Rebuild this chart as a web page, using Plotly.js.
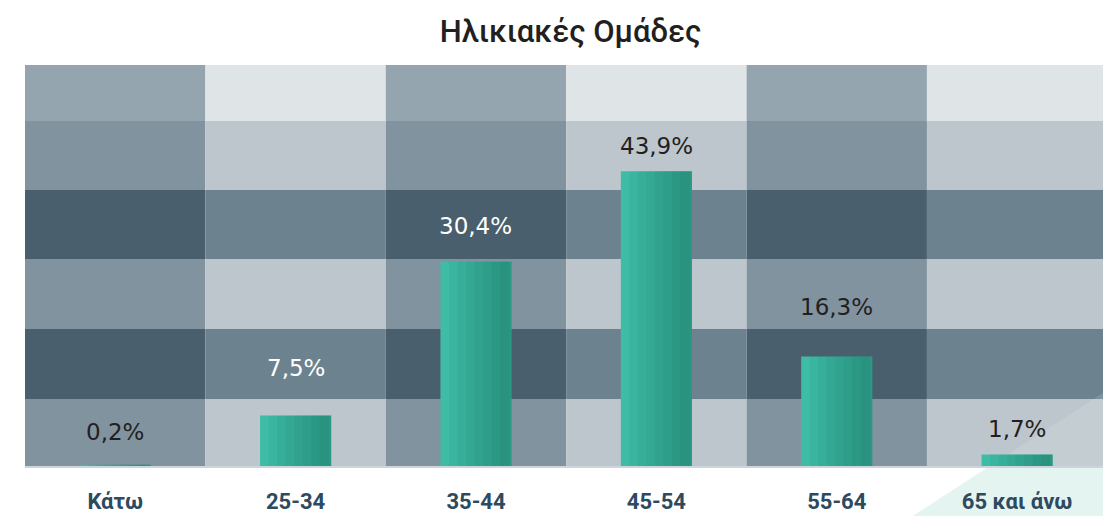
<!DOCTYPE html>
<html>
<head>
<meta charset="utf-8">
<script src="https://cdn.plot.ly/plotly-3.0.1.min.js"></script>
<style>html,body{margin:0;padding:0;background:#fff;}#chart{width:1103px;height:516px;}</style>
</head>
<body>
<div id="chart"></div>
<script>
// ---- data ----
const categories = ["Κάτω", "25-34", "35-44", "45-54", "55-64", "65 και άνω"];
const shares = [0.2, 7.5, 30.4, 43.9, 16.3, 1.7];
const labelTexts = ["0,2%", "7,5%", "30,4%", "43,9%", "16,3%", "1,7%"];
const chartTitle = "Ηλικιακές Ομάδες";

// ---- styling ----
const labelColors = ["#231f20", "#ffffff", "#ffffff", "#231f20", "#231f20", "#231f20"];
const labelShift = [33, 48, 36, 25, 50, 26];
const xRange = [-0.5, 5.476];
const barW = 0.394;
const rowEdges = [0, 0.167, 0.3416, 0.5162, 0.6883, 0.8603, 1];
const rowColorsA = ["#81939f", "#4a5f6d", "#81939f", "#4a5f6d", "#81939f", "#95a5af"];
const rowColorsB = ["#bcc6cc", "#6d828f", "#bcc6cc", "#6d828f", "#bcc6cc", "#dfe4e7"];

const shapes = [];
for (let c = 0; c < categories.length; c++) {
  for (let r = 0; r < rowEdges.length - 1; r++) {
    shapes.push({
      type: "rect", layer: "below", xref: "x", yref: "paper",
      x0: c - 0.5, x1: Math.min(c + 0.5, xRange[1]),
      y0: rowEdges[r], y1: rowEdges[r + 1],
      fillcolor: (c % 2 === 0) ? rowColorsA[r] : rowColorsB[r],
      line: {width: 0}
    });
  }
}
// decorative triangle (bottom right)
shapes.push({
  type: "path", layer: "below", xref: "paper", yref: "paper",
  path: "M 0.809,-0.15 L 0.895,0 L 1,0 L 1,-0.15 Z",
  fillcolor: "#e4f4f0", line: {width: 0}
});
shapes.push({
  type: "path", layer: "below", xref: "paper", yref: "paper",
  path: "M 0.895,0 L 1,0.182 L 1,0 Z",
  fillcolor: "rgba(255,255,255,0.13)", line: {width: 0}
});

const traces = [{
  type: "bar", x: categories, y: shares,
  width: barW, offset: -barW / 2,
  marker: {color: "#3ebca6", line: {width: 0}},
  hoverinfo: "skip"
}];
// horizontal shading strips to imitate the gradient
const stripFractions = [0.12, 0.24, 0.36, 0.48, 0.6, 0.72, 0.84];
stripFractions.forEach(function (f) {
  traces.push({
    type: "bar", x: categories, y: shares,
    width: barW * (1 - f) - (f > 0.8 ? 0.012 : 0), offset: -barW / 2 + barW * f,
    marker: {color: "rgba(10,95,80,0.065)", line: {width: 0}},
    hoverinfo: "skip"
  });
});

const annotations = categories.map(function (c, i) {
  return {
    x: c, y: shares[i], xref: "x", yref: "y",
    text: labelTexts[i], showarrow: false,
    yanchor: "middle", yshift: labelShift[i],
    font: {family: "DejaVu Sans", size: 23, color: labelColors[i]}
  };
});

const layout = {
  width: 1103, height: 516,
  margin: {l: 25, r: 0, t: 65, b: 50, pad: 0},
  paper_bgcolor: "#ffffff", plot_bgcolor: "#ffffff",
  barmode: "overlay", showlegend: false,
  title: {
    text: chartTitle, x: 0.506, xref: "paper", xanchor: "center",
    y: 0.94, yref: "container", yanchor: "middle",
    font: {family: "Roboto", size: 31, weight: 500, color: "#231f20"}
  },
  xaxis: {
    type: "category", range: xRange, fixedrange: true,
    showgrid: false, zeroline: false, ticks: "",
    showline: true, linecolor: "#ccd5da", linewidth: 2,
    ticklabelstandoff: 15,
    tickfont: {family: "Roboto", size: 22, weight: 700, color: "#2d4a5f"}
  },
  yaxis: {
    range: [0, 59.7], showgrid: false, zeroline: false,
    showticklabels: false, ticks: "", fixedrange: true
  },
  shapes: shapes,
  annotations: annotations
};

Plotly.newPlot("chart", traces, layout, {displayModeBar: false, staticPlot: true});
</script>
</body>
</html>
